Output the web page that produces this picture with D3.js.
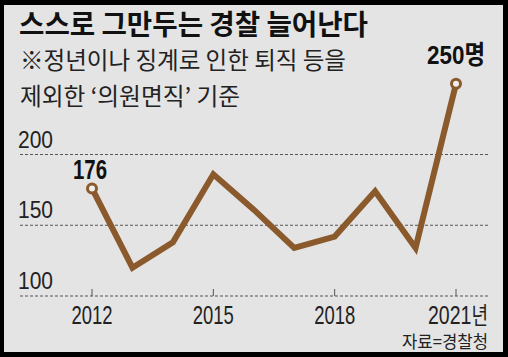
<!DOCTYPE html>
<html><head><meta charset="utf-8">
<script src="https://cdn.jsdelivr.net/npm/d3@7"></script>
<style>
html,body{margin:0;padding:0;background:#000;}
svg{display:block;}
</style></head>
<body>
<svg id="c" width="508" height="357"></svg>
<script>
const years = [2012,2013,2014,2015,2016,2017,2018,2019,2020,2021];
const values = [176,120,138,186,161,134,142,174,134,250];
const yTicks = [100,150,200];
const xTickYears = [2012,2015,2018,2021];
const xTickLabels = ["2012","2015","2018","2021년"];
const title = "스스로 그만두는 경찰 늘어난다";
const subtitle = ["※정년이나 징계로 인한 퇴직 등을","제외한 ‘의원면직’ 기준"];
const source = "자료=경찰청";

const svg = d3.select("#c");
const KR = "'Noto Sans CJK KR','Noto Sans',sans-serif";
const NUM = "'Liberation Sans Narrow','Liberation Sans',Arial,'Noto Sans CJK KR',sans-serif";
const brown = "#8a5a2c";

svg.append("rect").attr("x",0).attr("y",0).attr("width",508).attr("height",357).attr("fill","#000");
svg.append("rect").attr("x",4).attr("y",5).attr("width",499).attr("height",347).attr("fill","#e4e4e4");

const x = d3.scaleLinear().domain([2012,2021]).range([92,456]);
const y = d3.scaleLinear().domain([100,200]).range([296,154.5]);

// title
svg.append("text").attr("x",19).attr("y",35).attr("font-family",KR).attr("font-weight",700)
  .attr("font-size",28).attr("fill","#111").attr("textLength",349).attr("lengthAdjust","spacingAndGlyphs").text(title);
const subLen = [326,220];
subtitle.forEach((s,i)=>{
  svg.append("text").attr("x",20).attr("y",69+i*36).attr("font-family",KR).attr("font-weight",400)
    .attr("font-size",23.5).attr("fill","#222").attr("textLength",subLen[i]).attr("lengthAdjust","spacingAndGlyphs").text(s);
});

// grid
const grid = svg.append("g");
yTicks.forEach(t=>{
  grid.append("line").attr("x1",20).attr("x2",489).attr("y1",y(t)).attr("y2",y(t))
    .attr("stroke","#555").attr("stroke-width",1).attr("stroke-dasharray","3,2");
  grid.append("text").attr("x",18).attr("y",y(t)-7).attr("font-family",NUM).attr("font-size",24)
    .attr("fill","#222").attr("textLength",35).attr("lengthAdjust","spacingAndGlyphs").text(t);
});

// x axis ticks
xTickYears.forEach((yr,i)=>{
  grid.append("line").attr("x1",x(yr)).attr("x2",x(yr)).attr("y1",y(100)-7).attr("y2",y(100))
    .attr("stroke","#555").attr("stroke-width",1);
  const lab = xTickLabels[i];
  const digits = lab.replace(/[^0-9]/g,"");
  const suffix = lab.replace(/[0-9]/g,"");
  if (suffix) {
    const t = grid.append("text").attr("x",0).attr("y",0).attr("fill","#222");
    t.append("tspan").attr("font-family",NUM).attr("font-size",26).text(digits);
    t.append("tspan").attr("font-family",KR).attr("font-size",24).text(suffix);
    const w = t.node().getComputedTextLength();
    t.attr("transform",`translate(428,324) scale(${60/w},1)`);
  } else {
    grid.append("text").attr("x",x(yr)).attr("y",324).attr("text-anchor","middle")
      .attr("font-family",NUM).attr("font-size",26).attr("fill","#222")
      .attr("textLength",41).attr("lengthAdjust","spacingAndGlyphs").text(digits);
  }
});

// line
const data = years.map((yr,i)=>({yr, v:values[i]}));
svg.append("path").datum(data)
  .attr("d", d3.line().x(d=>x(d.yr)).y(d=>y(d.v)))
  .attr("fill","none").attr("stroke",brown).attr("stroke-width",6).attr("stroke-linejoin","miter");

// end circles
[data[0], data[data.length-1]].forEach(d=>{
  svg.append("circle").attr("cx",x(d.yr)).attr("cy",y(d.v)).attr("r",4.5)
    .attr("fill","#eee").attr("stroke",brown).attr("stroke-width",3);
});

svg.append("text").attr("x",90).attr("y",179).attr("text-anchor","middle")
  .attr("font-family",NUM).attr("font-weight",700).attr("font-size",27).attr("fill","#111")
  .attr("textLength",34).attr("lengthAdjust","spacingAndGlyphs").text(values[0]);
svg.append("text").attr("x",x(2021)).attr("y",64).attr("text-anchor","middle")
  .attr("font-family",NUM).attr("font-weight",700).attr("font-size",26).attr("fill","#111")
  .attr("textLength",58).attr("lengthAdjust","spacingAndGlyphs").text(values[values.length-1]+"명");

svg.append("text").attr("x",488).attr("y",348).attr("text-anchor","end").attr("font-family",KR)
  .attr("font-size",17).attr("fill","#222").attr("textLength",86).attr("lengthAdjust","spacingAndGlyphs").text(source);
</script>
</body></html>
